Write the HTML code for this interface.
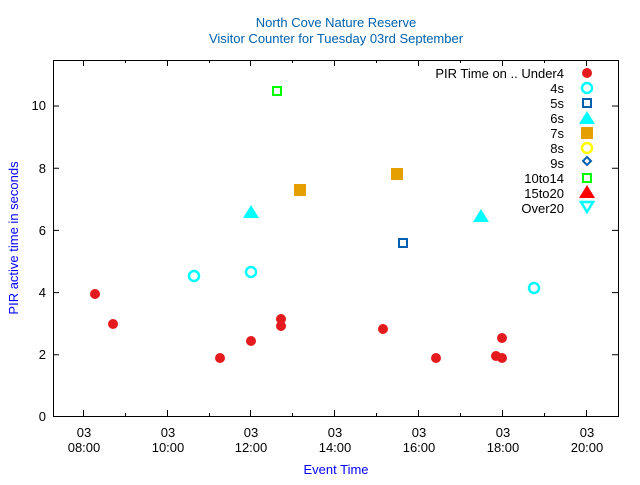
<!DOCTYPE html>
<html><head><style>body{margin:0;background:#fff}</style></head><body>
<svg width="640" height="480" xmlns="http://www.w3.org/2000/svg" font-family="Liberation Sans, sans-serif" font-size="13">
<rect width="640" height="480" fill="#fff"/>
<text x="336" y="27" text-anchor="middle" fill="#0060ad">North Cove Nature Reserve</text>
<text x="336" y="43" text-anchor="middle" fill="#0060ad">Visitor Counter for Tuesday 03rd September</text>
<g stroke="#000" stroke-width="1" fill="none">
<rect x="53.5" y="60.5" width="565" height="356"/>
<path d="M53 354.8h6M618 354.8h-6M53 292.6h6M618 292.6h-6M53 230.4h6M618 230.4h-6M53 168.2h6M618 168.2h-6M53 106h6M618 106h-6
M83.5 416v-6M83.5 60v6M167.5 416v-6M167.5 60v6M250.5 416v-6M250.5 60v6M334.5 416v-6M334.5 60v6M418.5 416v-6M418.5 60v6M502.5 416v-6M502.5 60v6M586.5 416v-6M586.5 60v6
M125.5 416v-3M125.5 60v3M209.5 416v-3M209.5 60v3M292.5 416v-3M292.5 60v3M376.5 416v-3M376.5 60v3M460.5 416v-3M460.5 60v3M544.5 416v-3M544.5 60v3"/>
</g>
<g text-anchor="end" fill="#000">
<text x="46" y="421">0</text><text x="46" y="359">2</text><text x="46" y="297">4</text><text x="46" y="235">6</text><text x="46" y="173">8</text><text x="46" y="110">10</text>
</g>
<g text-anchor="middle" fill="#000">
<text x="84" y="437">03</text><text x="84" y="452">08:00</text>
<text x="168" y="437">03</text><text x="168" y="452">10:00</text>
<text x="251" y="437">03</text><text x="251" y="452">12:00</text>
<text x="335" y="437">03</text><text x="335" y="452">14:00</text>
<text x="419" y="437">03</text><text x="419" y="452">16:00</text>
<text x="503" y="437">03</text><text x="503" y="452">18:00</text>
<text x="587" y="437">03</text><text x="587" y="452">20:00</text>
</g>
<text x="336" y="474" text-anchor="middle" fill="#0000ff">Event Time</text>
<text transform="translate(18,238) rotate(-90)" text-anchor="middle" fill="#0000ff">PIR active time in seconds</text>
<g fill="#e41a1c">
<circle cx="95" cy="294" r="5"/><circle cx="113" cy="324" r="5"/><circle cx="220" cy="358" r="5"/><circle cx="251" cy="341" r="5"/><circle cx="281" cy="319" r="5"/><circle cx="281" cy="326" r="5"/><circle cx="383" cy="329" r="5"/><circle cx="436" cy="358" r="5"/><circle cx="496" cy="356" r="5"/><circle cx="502" cy="358" r="5"/><circle cx="502" cy="338" r="5"/>
<circle cx="587" cy="73" r="5"/>
</g>
<g fill="none" stroke="#00ffff" stroke-width="2.5">
<circle cx="194" cy="276" r="5"/><circle cx="251" cy="272" r="5"/><circle cx="534" cy="288" r="5"/><circle cx="587" cy="88" r="5"/>
</g>
<g fill="none" stroke="#0060ad" stroke-width="2">
<rect x="399" y="239" width="8" height="8"/><rect x="583" y="99" width="8" height="8"/>
<path d="M587 157l4 4-4 4-4-4z"/>
</g>
<g fill="#00ffff">
<path d="M251 205l8 13h-16z"/><path d="M481 209l8 13h-16z"/><path d="M587 111l8 13h-16z"/>
</g>
<g fill="#e69f00">
<rect x="294" y="184" width="12" height="12"/><rect x="391" y="168" width="12" height="12"/><rect x="581" y="127" width="12" height="12"/>
</g>
<circle cx="587" cy="148" r="5" fill="none" stroke="#ffff00" stroke-width="2.5"/>
<g fill="none" stroke="#00ff00" stroke-width="2">
<rect x="273" y="87" width="8" height="8"/><rect x="583" y="174" width="8" height="8"/>
</g>
<path d="M587 185l8 13h-16z" fill="#ff0000"/>
<path d="M581 202h12l-6 10z" fill="none" stroke="#00ffff" stroke-width="2.5"/>
<g text-anchor="end" fill="#000">
<text x="564" y="78">PIR Time on .. Under4</text><text x="564" y="93">4s</text><text x="564" y="108">5s</text><text x="564" y="123">6s</text><text x="564" y="138">7s</text><text x="564" y="153">8s</text><text x="564" y="168">9s</text><text x="564" y="183">10to14</text><text x="564" y="198">15to20</text><text x="564" y="213">Over20</text>
</g>
</svg>
</body></html>
